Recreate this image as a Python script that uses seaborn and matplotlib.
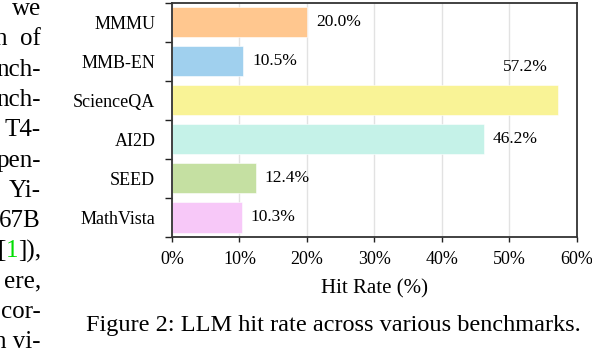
import matplotlib
matplotlib.use("Agg")
import matplotlib.pyplot as plt
from matplotlib.ticker import PercentFormatter, FixedLocator
import seaborn as sns

benchmarks = ["MMMU", "MMB-EN", "ScienceQA", "AI2D", "SEED", "MathVista"]
hit_rates = [20.0, 10.5, 57.2, 46.2, 12.4, 10.3]
bar_colors = ["#FFC78F", "#A0D0EE", "#F9F396", "#C5F2E8", "#C5E0A2", "#F7C8F8"]
x_ticks = [0, 10, 20, 30, 40, 50, 60]
x_label = "Hit Rate (%)"
caption = "Figure 2: LLM hit rate across various benchmarks."
side_lines = ["we", "n  of", "nch-", "nch-", "T4-", "pen-", "Yi-", "67B", "[1]),", "ere,", "cor-", "n vi-"]

sns.set_theme(style="white")
plt.rcParams["font.family"] = ["Liberation Serif", "DejaVu Serif"]

W, H = 592, 348
fig = plt.figure(figsize=(W / 100, H / 100), dpi=100)
ax = fig.add_axes([172 / W, 1 - 237 / H, 405 / W, 234.5 / H])

sns.barplot(x=hit_rates, y=benchmarks, hue=benchmarks, palette=bar_colors,
            legend=False, width=0.77, saturation=1, ax=ax,
            edgecolor="white", linewidth=0.4)

ax.set_xlim(0, 60)
ax.set_ylim(5.5, -0.5)
ax.set_xticks(x_ticks)
ax.xaxis.set_major_formatter(PercentFormatter(xmax=100, decimals=0))
ax.set_xlabel(x_label, fontsize=15, color="black", labelpad=8)
ax.set_ylabel("")
ax.grid(axis="x", color="#e2e2e2", linewidth=1)
ax.grid(axis="y", visible=False)
ax.set_axisbelow(True)

ax.tick_params(axis="y", which="major", length=0, labelsize=13, pad=12, colors="black")
ax.yaxis.set_minor_locator(FixedLocator([i - 0.5 for i in range(len(benchmarks) + 1)]))
ax.tick_params(axis="y", which="minor", length=5, width=1, color="#222222", direction="out", left=True)
ax.tick_params(axis="x", which="major", length=3.5, width=1, color="#222222", direction="out",
               bottom=True, labelsize=13, pad=6.5, labelcolor="black")

for sp in ax.spines.values():
    sp.set_visible(True)
    sp.set_color("#333333")
    sp.set_linewidth(1.3)

for i, v in enumerate(hit_rates):
    if v > 55:
        ax.text(v - 4.8, i - 0.85, f"{v:.1f}%", ha="center", va="center", fontsize=12.5, color="black")
    else:
        ax.text(v + 1.35, i, f"{v:.1f}%", ha="left", va="center", fontsize=12.5, color="black")

# caption
fig.text(86 / W, 1 - 331.5 / H, caption, ha="left", va="baseline", fontsize=17.5, color="black")

# side text column (cut-off paragraph of the paper)
fig.canvas.draw()
r = fig.canvas.get_renderer()
x_right = 41
for k, line in enumerate(side_lines):
    yb = 1 - (15 + 30.3 * k) / H
    if line == "[1]),":
        t3 = fig.text(x_right / W, yb, "]),", ha="right", va="baseline", fontsize=18, color="black")
        w3 = t3.get_window_extent(r).width
        t2 = fig.text((x_right - w3) / W, yb, "1", ha="right", va="baseline", fontsize=18, color="#00DD00")
        w2 = t2.get_window_extent(r).width
        fig.text((x_right - w3 - w2) / W, yb, "[", ha="right", va="baseline", fontsize=18, color="black")
    else:
        fig.text(x_right / W, yb, line, ha="right", va="baseline", fontsize=18, color="black")

fig.savefig("out.png", dpi=100)
